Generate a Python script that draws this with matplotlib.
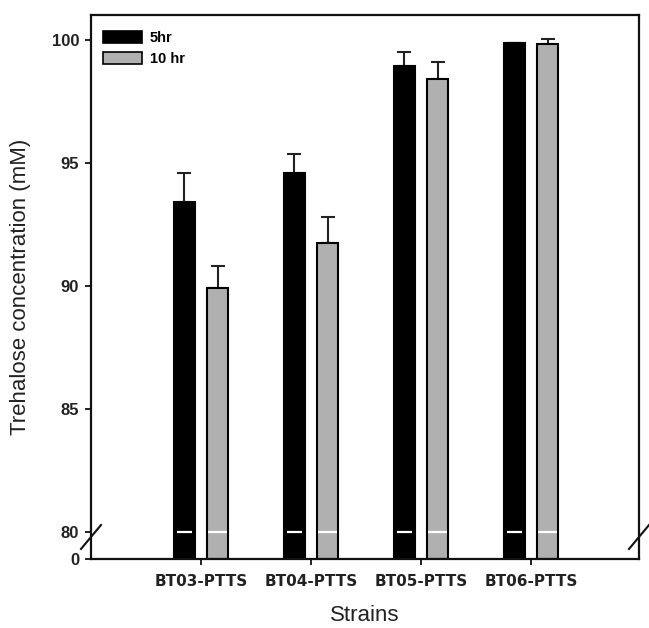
import numpy as np
import matplotlib
matplotlib.use("Agg")
import matplotlib.pyplot as plt
from matplotlib.patches import Patch

# --- data ---
strains = ["BT03-PTTS", "BT04-PTTS", "BT05-PTTS", "BT06-PTTS"]
conc_5hr = [93.41, 94.59, 98.96, 99.87]
err_5hr = [1.18, 0.78, 0.55, 0.02]
conc_10hr = [89.92, 91.75, 98.41, 99.83]
err_10hr = [0.89, 1.05, 0.68, 0.21]
yticks = [0, 80, 85, 90, 95, 100]

BREAK = 80.0      # axis break value
K = 1.10          # how tall the 0..80 stretch is, in "upper" units


def fwd(v):
    v = np.asarray(v, float)
    return np.where(v < BREAK, v * K / BREAK, v - BREAK + K)


def inv(u):
    u = np.asarray(u, float)
    return np.where(u < K, u * BREAK / K, u + BREAK - K)


plt.rcParams["font.family"] = ["Liberation Sans", "DejaVu Sans"]

fig = plt.figure(figsize=(6.49, 6.28), dpi=100)
ax = fig.add_axes([0.1402, 0.1099, 0.8444, 0.8662])
ax.set_yscale("function", functions=(fwd, inv))

x = np.arange(len(strains))
w = 0.19
off = 0.152
GRAY = "#b0b0b0"

ax.bar(x - off, conc_5hr, w, color="black", edgecolor="black", lw=1.5, zorder=2)
ax.bar(x + off, conc_10hr, w, color=GRAY, edgecolor="black", lw=1.5, zorder=2)
ax.errorbar(x - off, conc_5hr, yerr=[np.zeros(4), err_5hr], fmt="none",
            ecolor="#222222", elinewidth=1.5, capsize=5, capthick=1.5, zorder=1)
ax.errorbar(x + off, conc_10hr, yerr=[np.zeros(4), err_10hr], fmt="none",
            ecolor="#222222", elinewidth=1.5, capsize=5, capthick=1.5, zorder=1)

# white dashes where the bars cross the break
ax.hlines([BREAK] * 4, x - off - w * 0.36, x - off + w * 0.36, colors="white", lw=1.6, zorder=3)
ax.hlines([BREAK] * 4, x + off - w * 0.45, x + off + w * 0.45, colors="white", lw=1.6, zorder=3)

ax.set_xlim(-1.0, 3.98)
ax.set_ylim(0, 101.02)
ax.set_yticks(yticks)
ax.set_yticklabels([str(t) for t in yticks], fontsize=12, fontweight="bold", color="#222222")
ax.set_xticks(x)
ax.set_xticklabels(strains, fontsize=11, fontweight="bold", family="DejaVu Sans", color="#222222")
ax.tick_params(axis="both", direction="out", length=4.5, width=1.4, pad=4, color="#222222")
ax.tick_params(axis="x", pad=6)
for s in ax.spines.values():
    s.set_linewidth(1.6)
    s.set_color("#111111")

ax.set_ylabel("Trehalose concentration (mM)", fontsize=16, color="#222222")
ax.yaxis.set_label_coords(-0.11, 0.5)
ax.set_xlabel("Strains", fontsize=16, color="#222222")
ax.xaxis.set_label_coords(0.5, -0.084)

# break marks on both side spines
dx, dy, yb = 10 / 547, 12 / 544, 22 / 544
for xs in (0, 1):
    ax.plot([xs - dx, xs + dx], [yb - dy, yb + dy], transform=ax.transAxes,
            color="#111111", lw=1.5, clip_on=False, zorder=5)

handles = [Patch(facecolor="black", edgecolor="black", lw=1.2, label="5hr"),
           Patch(facecolor=GRAY, edgecolor="black", lw=1.2, label="10 hr")]
ax.legend(handles=handles, loc="upper left", bbox_to_anchor=(0.022, 0.970),
          frameon=False, borderpad=0, borderaxespad=0, handlelength=2.7,
          handleheight=0.85, handletextpad=0.5, labelspacing=0.45,
          prop={"weight": "bold", "size": 10.5})

fig.savefig("out.png", dpi=100)
